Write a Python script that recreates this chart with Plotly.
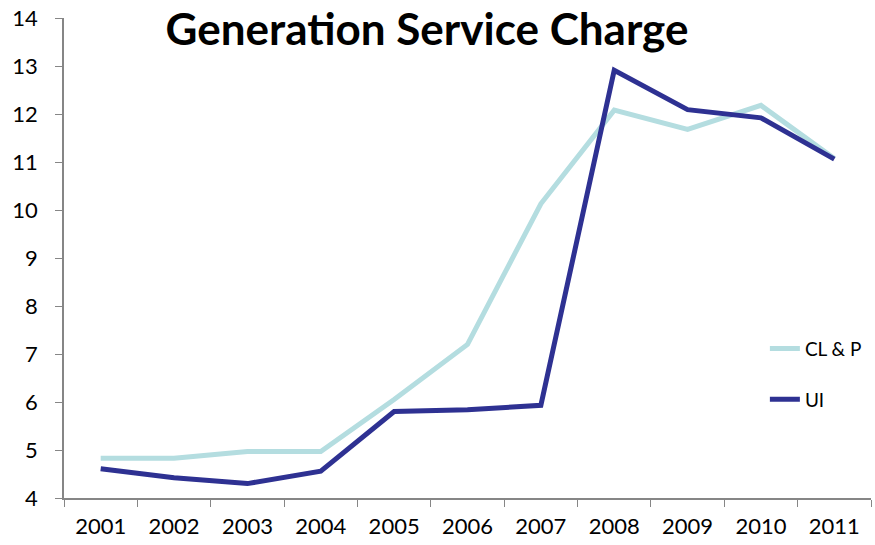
import plotly.graph_objects as go

years = ["2001", "2002", "2003", "2004", "2005", "2006", "2007", "2008", "2009", "2010", "2011"]
clp = [4.83, 4.83, 4.97, 4.97, 6.05, 7.2, 10.13, 12.08, 11.68, 12.18, 11.07]
ui = [4.61, 4.42, 4.3, 4.56, 5.8, 5.84, 5.93, 12.91, 12.09, 11.92, 11.06]

FONT = "Lato"

fig = go.Figure()
fig.add_trace(go.Scatter(x=years, y=clp, mode="lines", name="CL & P",
                         line=dict(color="#B4DDE0", width=5), legendgroup="a"))
fig.add_trace(go.Scatter(x=years, y=ui, mode="lines", name="UI",
                         line=dict(color="#2E3192", width=5), legendgroup="b"))

fig.update_layout(
    width=875, height=545,
    margin=dict(l=64, r=4, t=18, b=47, autoexpand=False),
    paper_bgcolor="white", plot_bgcolor="white",
    font=dict(family=FONT, size=22, color="black"),
    title=dict(text="<b>Generation Service Charge</b>", x=0.488, xanchor="center",
               y=0.9453, yanchor="middle", font=dict(family=FONT, size=44, color="black")),
    legend=dict(x=0.8685, y=0.258, xanchor="left", yanchor="middle",
                bgcolor="rgba(0,0,0,0)", traceorder="grouped", tracegroupgap=23,
                font=dict(family=FONT, size=19)),
    xaxis=dict(type="category", range=[-0.5, 10.5], showline=True, linecolor="#868686",
               linewidth=1.5, ticks="outside", tickson="boundaries", ticklen=7,
               tickcolor="#868686", showgrid=False, zeroline=False, automargin=False,
               ticklabelstandoff=8, ticklabeloverflow="allow"),
    yaxis=dict(range=[4, 14], dtick=1, showline=True, linecolor="#868686", linewidth=1.5,
               ticks="outside", ticklen=7, tickcolor="#868686", showgrid=False,
               zeroline=False, automargin=False, ticklabelstandoff=13,
               ticklabeloverflow="allow"),
)

fig.write_html("out.html", config={"displayModeBar": False},
               post_script="document.body.style.margin='0';")
